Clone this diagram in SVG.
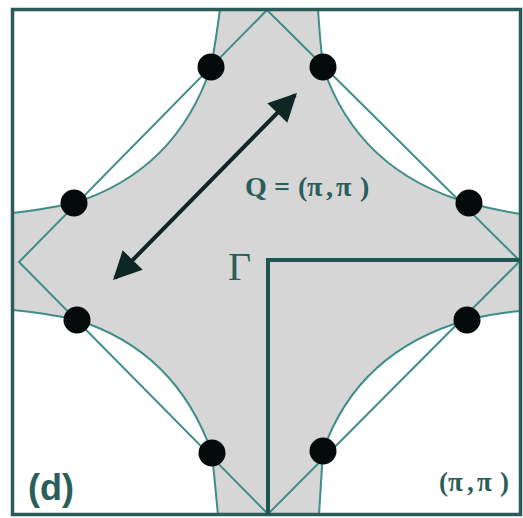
<svg xmlns="http://www.w3.org/2000/svg" width="523" height="518" viewBox="0 0 523 518">
  <defs>
    <style>
      .fs { fill: none; stroke: #3f8d88; stroke-width: 2; }
      .bz { fill: none; stroke: #3f8d88; stroke-width: 2; }
      .dot { fill: #050a0a; }
      .lbl { fill: #2a5e5b; }
    </style>
    <marker id="ah" viewBox="0 0 10 10" refX="9" refY="5" markerWidth="8" markerHeight="7" markerUnits="strokeWidth" orient="auto-start-reverse">
      <path d="M0,0 L10,5 L0,10 z" fill="#0e2725"/>
    </marker>
  </defs>
  <rect x="0" y="0" width="523" height="518" fill="#ffffff"/>

  <g id="fermi-region">
    <path fill="#d6d6d6" d="M220,9 L318,9 Q320,40 323,67 Q358,171 469,203 Q495,210 521,214 L521,311 Q495,313 467,320 Q358,351 323,451 Q321,485 319,515 L218,515 Q215,485 212,453 Q176,351 77,320 Q45,313 13,310 L13,213 Q40,210 74,203 Q176,171 211,67 Q216,40 220,9 Z"/>
  </g>

  <g id="fermi-surface">
    <path class="fs" d="M220,9 Q216,40 211,67 Q176,171 74,203 Q40,210 13,213"/>
    <path class="fs" d="M318,9 Q320,40 323,67 Q358,171 469,203 Q495,210 521,214"/>
    <path class="fs" d="M13,310 Q45,313 77,320 Q176,351 212,453 Q215,485 218,515"/>
    <path class="fs" d="M521,311 Q495,313 467,320 Q358,351 323,451 Q321,485 319,515"/>
  </g>

  <g id="magnetic-zone">
    <path class="bz" d="M267,10 L520,261 L268,514 L19,262 Z"/>
  </g>

  <g id="frame">
    <rect x="12.5" y="9.5" width="508" height="505" fill="none" stroke="#2b5c59" stroke-width="3.5"/>
  </g>

  <g id="quadrant">
    <path d="M268,515 L268,260 L521,260" fill="none" stroke="#1d5652" stroke-width="4"/>
  </g>

  <g id="hot-spots">
    <circle class="dot" cx="211" cy="67" r="13.5"/>
    <circle class="dot" cx="323" cy="67" r="13.5"/>
    <circle class="dot" cx="74" cy="203" r="13.5"/>
    <circle class="dot" cx="469" cy="203" r="13.5"/>
    <circle class="dot" cx="77" cy="320" r="13.5"/>
    <circle class="dot" cx="467" cy="320" r="13.5"/>
    <circle class="dot" cx="212" cy="453" r="13.5"/>
    <circle class="dot" cx="323" cy="451" r="13.5"/>
  </g>

  <g id="connectors">
    <line x1="115" y1="278" x2="295" y2="95" stroke="#0e2725" stroke-width="4" marker-start="url(#ah)" marker-end="url(#ah)"/>
  </g>

  <g id="labels">
    <text class="lbl" y="196" font-family="Liberation Serif, serif" font-size="28" font-weight="bold"><tspan x="245">Q</tspan><tspan x="274">=</tspan><tspan x="298">(</tspan><tspan x="307">π</tspan><tspan x="326">,</tspan><tspan x="336">π</tspan><tspan x="360">)</tspan></text>
    <text class="lbl" x="228" y="280" font-family="Liberation Serif, serif" font-size="40">Γ</text>
    <text class="lbl" x="28" y="500" font-family="Liberation Sans, Arial, sans-serif" font-size="36" font-weight="bold">(d)</text>
    <text class="lbl" y="491" font-family="Liberation Serif, serif" font-size="27" font-weight="bold"><tspan x="439">(</tspan><tspan x="448">π</tspan><tspan x="467">,</tspan><tspan x="477">π</tspan><tspan x="500">)</tspan></text>
  </g>
</svg>
